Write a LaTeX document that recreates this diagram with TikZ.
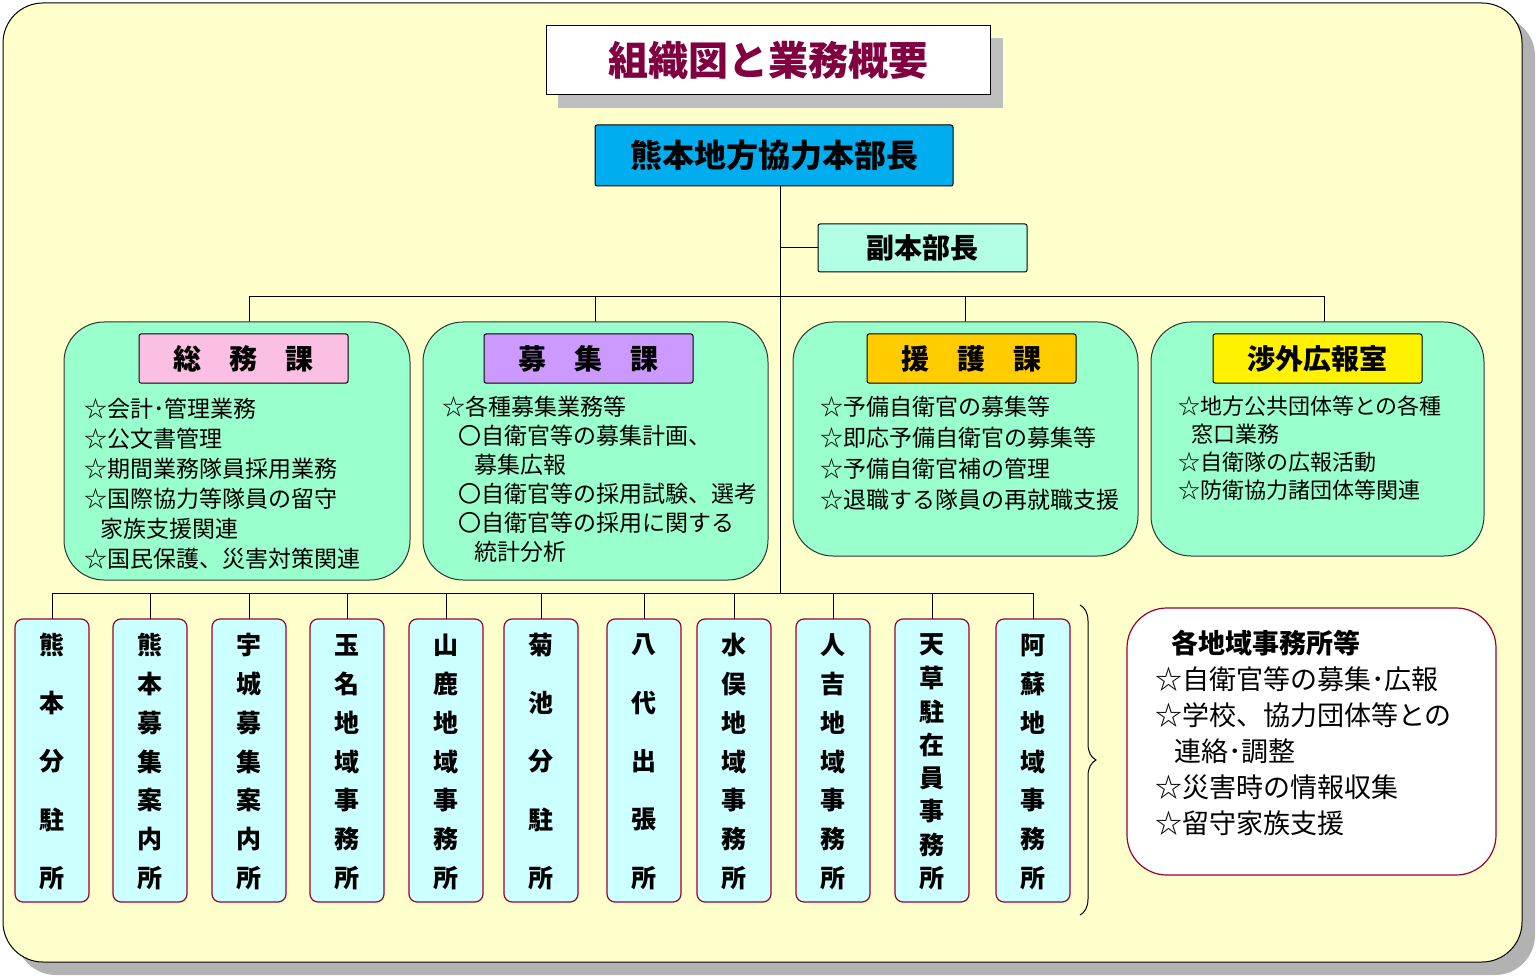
\documentclass[tikz,border=0pt]{standalone}
\usepackage{fontspec}
\setmainfont{Noto Sans CJK JP}
\newcommand{\bfj}{\bfseries}
\usetikzlibrary{decorations.pathreplacing}
\definecolor{bgy}{HTML}{FFFFCC}
\definecolor{mint}{HTML}{99FFCC}
\definecolor{lcy}{HTML}{CCFFFF}
\definecolor{maro}{HTML}{990033}
\definecolor{ttl}{HTML}{800040}
\tikzset{
 dept/.style={draw=black!80,fill=mint,rounded corners=40pt,line width=1pt},
 hdr/.style={draw=black,line width=1pt,rounded corners=2pt,font=\bfj\fontsize{28}{28}\selectfont},
 office/.style={draw=maro,fill=lcy,rounded corners=8pt,line width=1.2pt},
 body/.style={anchor=north west,align=left,font=\fontsize{23}{30}\selectfont,inner sep=0pt},
 conn/.style={line width=1pt}
}
\newcommand{\vtext}[3]{% x, name, list
 \foreach \c [count=\i] in {#3}{\xdef\nch{\i}}
 \foreach \c [count=\i] in {#3}{
  \pgfmathsetmacro\yy{645+(\i-1)*233/(\nch-1)}
  \node[font=\bfj\fontsize{25}{25}\selectfont,inner sep=0pt] at (#1,\yy) {\c};}
}
\begin{document}
\begin{tikzpicture}[x=1pt,y=-1pt]
\useasboundingbox (0,0) rectangle (1537,976);
\fill[gray!60,rounded corners=40pt] (16,16) rectangle (1535,975);
\draw[fill=bgy,line width=1pt,rounded corners=40pt] (3,3) rectangle (1522,962);
% title
\fill[gray!50] (558,38) rectangle (1003,108);
\node[draw,fill=white,line width=1pt,minimum width=444pt,minimum height=69pt,text=ttl,font=\bfj\fontsize{40}{40}\selectfont] (title) at (768,60.5) {組織図と業務概要};
% chief
\node[hdr,fill=cyan,minimum width=358pt,minimum height=61pt,font=\bfj\fontsize{32}{32}\selectfont] (chief) at (774,155.5) {熊本地方協力本部長};
\node[hdr,fill=mint!50!lcy,minimum width=209pt,minimum height=48pt] (dep) at (922.5,248) {副本部長};
\coordinate (top) at (780,186);
\coordinate (bot) at (780,593);
\draw[conn] (top) -- (bot);
\draw[conn] (780,248) -- (dep.west);
\draw[conn] (249,322) -- (249,297) -- (1324,297) -- (1324,322);
\draw[conn] (595,297) -- (595,322);
\draw[conn] (965,297) -- (965,322);
% departments
\draw[dept] (64,322) rectangle (410,580);
\draw[dept] (423,322) rectangle (768,580);
\draw[dept] (793,322) rectangle (1138,556);
\draw[dept] (1151,322) rectangle (1484,556);
\node[hdr,fill=magenta!25,minimum width=209pt,minimum height=49pt] (h1) at (243.5,358.5) {総\hspace{1em}務\hspace{1em}課};
\node[hdr,fill={rgb,255:red,204;green,153;blue,255},minimum width=209pt,minimum height=49pt] (h2) at (588.5,358.5) {募\hspace{1em}集\hspace{1em}課};
\node[hdr,fill={rgb,255:red,255;green,204;blue,0},minimum width=209pt,minimum height=49pt] (h3) at (971.5,358.5) {援\hspace{1em}護\hspace{1em}課};
\node[hdr,fill=yellow,minimum width=209pt,minimum height=49pt] (h4) at (1317.5,358.5) {渉外広報室};
\node[body] (b1) at (84,398) {☆会計･管理業務\\☆公文書管理\\☆期間業務隊員採用業務\\☆国際協力等隊員の留守\\\hspace{0.7em}家族支援関連\\☆国民保護、災害対策関連};
\node[body,font=\fontsize{23}{29}\selectfont] (b2) at (442,396) {☆各種募集業務等\\\hspace{0.7em}〇自衛官等の募集計画、\\\hspace{1.4em}募集広報\\\hspace{0.7em}〇自衛官等の採用試験、選考\\\hspace{0.7em}〇自衛官等の採用に関する\\\hspace{1.4em}統計分析};
\node[body,font=\fontsize{23}{31}\selectfont] (b3) at (820,396) {☆予備自衛官の募集等\\☆即応予備自衛官の募集等\\☆予備自衛官補の管理\\☆退職する隊員の再就職支援};
\node[body,font=\fontsize{22}{28}\selectfont] (b4) at (1178,396) {☆地方公共団体等との各種\\\hspace{0.6em}窓口業務\\☆自衛隊の広報活動\\☆防衛協力諸団体等関連};
% offices
\draw[conn] (52,619) -- (52,593) -- (1033,593) -- (1033,619);
\foreach \x in {150,249,347,446,541,644,734,833,932}{
 \draw[conn] (\x,593) -- (\x,619);}
\foreach \x/\n in {52/o1,150/o2,249/o3,347/o4,446/o5,541/o6,644/o7,734/o8,833/o9,932/o10,1033/o11}{
 \node[office,minimum width=74pt,minimum height=283pt] (\n) at (\x,760.5) {};}
\vtext{52}{o1}{熊,本,分,駐,所}
\vtext{150}{o2}{熊,本,募,集,案,内,所}
\vtext{249}{o3}{宇,城,募,集,案,内,所}
\vtext{347}{o4}{玉,名,地,域,事,務,所}
\vtext{446}{o5}{山,鹿,地,域,事,務,所}
\vtext{541}{o6}{菊,池,分,駐,所}
\vtext{644}{o7}{八,代,出,張,所}
\vtext{734}{o8}{水,俣,地,域,事,務,所}
\vtext{833}{o9}{人,吉,地,域,事,務,所}
\vtext{932}{o10}{天,草,駐,在,員,事,務,所}
\vtext{1033}{o11}{阿,蘇,地,域,事,務,所}
% brace
\draw[line width=1pt,decorate,decoration={brace,amplitude=16pt}] (1080,605) -- (1080,915);
% right box
\draw[draw=maro,fill=white,line width=1.2pt,rounded corners=40pt] (1127,608) rectangle (1496,875);
\node[body,font=\fontsize{27}{36}\selectfont] (rb) at (1155,630) {\hspace{0.6em}{\bfj 各地域事務所等}\\☆自衛官等の募集･広報\\☆学校、協力団体等との\\\hspace{0.7em}連絡･調整\\☆災害時の情報収集\\☆留守家族支援};
\end{tikzpicture}
\end{document}
